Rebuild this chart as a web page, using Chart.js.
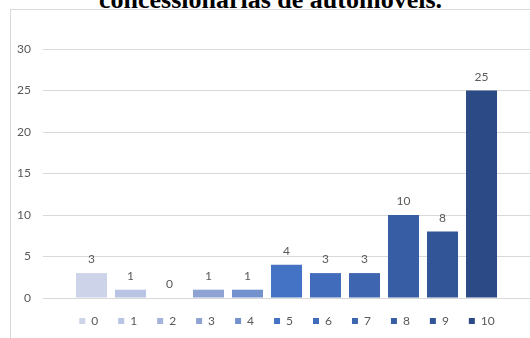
<!DOCTYPE html>
<html>
<head>
<meta charset="utf-8">
<script src="https://cdn.jsdelivr.net/npm/chart.js@4.4.1/dist/chart.umd.min.js"></script>
<style>
  body { margin: 0; width: 530px; height: 338px; overflow: hidden; background: #fff; position: relative; }
  #frame { position: absolute; left: 10px; top: 9px; width: 600px; height: 400px; border: 1px solid #d9d9d9; }
  #title { position: absolute; left: 0; width: 541px; top: -15px; line-height: 30px; text-align: center;
           font: bold 26px "Liberation Serif", "Times New Roman", serif; color: #000; white-space: nowrap; }
  #chart { position: absolute; left: 0; top: 0; }
</style>
</head>
<body>
<div id="frame"></div>
<div id="title">concessionárias de automóveis.</div>
<canvas id="chart" width="530" height="338"></canvas>
<script>
// one category, one series per score
var categories = [''];
var seriesNames = ['0', '1', '2', '3', '4', '5', '6', '7', '8', '9', '10'];
var seriesValues = [3, 1, 0, 1, 1, 4, 3, 3, 10, 8, 25];
var seriesColors = ['#cdd4e9', '#b9c3e3', '#a5b3dc', '#8fa2d4', '#7391cc', '#4472c4',
                    '#416cbb', '#3d65b0', '#375da4', '#325598', '#2c4a86'];
var yTicks = { min: 0, max: 30, step: 5 };

var textColor = '#595959';
var fontFamily = 'Lato, "Open Sans", sans-serif';

var datasets = seriesNames.map(function (name, i) {
  return {
    label: name,
    data: [seriesValues[i]],
    backgroundColor: seriesColors[i],
    borderWidth: 0
  };
});

// value labels above each bar
var valueLabels = {
  id: 'valueLabels',
  afterDatasetsDraw: function (chart) {
    var ctx = chart.ctx;
    ctx.save();
    ctx.fillStyle = textColor;
    ctx.font = '12px ' + fontFamily;
    ctx.textAlign = 'center';
    ctx.textBaseline = 'alphabetic';
    chart.data.datasets.forEach(function (ds, i) {
      chart.getDatasetMeta(i).data.forEach(function (bar, j) {
        ctx.fillText(String(ds.data[j]), bar.x, bar.y - 10);
      });
    });
    ctx.restore();
  }
};

// legend row sits under the plot area, not the whole canvas, and close to the axis
var legendNudge = {
  id: 'legendNudge',
  afterLayout: function (chart) {
    var lg = chart.legend;
    lg.top -= 3;
    lg.bottom -= 3;
    lg.left += 22;
    lg.right += 22;
  }
};

new Chart(document.getElementById('chart'), {
  type: 'bar',
  data: { labels: categories, datasets: datasets },
  options: {
    responsive: false,
    devicePixelRatio: 1,
    animation: false,
    layout: { padding: { top: 49, right: 0, bottom: -2, left: 0 } },
    categoryPercentage: 0.881,
    barPercentage: 0.795,
    plugins: {
      tooltip: { enabled: false },
      title: { display: false },
      legend: {
        position: 'bottom',
        labels: {
          boxWidth: 6,
          boxHeight: 6,
          padding: 20,
          color: textColor,
          font: { family: fontFamily, size: 12 }
        }
      }
    },
    scales: {
      x: {
        display: false
      },
      y: {
        min: yTicks.min,
        max: yTicks.max,
        afterFit: function (scale) { scale.width = 43; },
        ticks: {
          stepSize: yTicks.step,
          padding: 12,
          color: textColor,
          font: { family: fontFamily, size: 12 }
        },
        grid: { color: '#d9d9d9', drawTicks: false, lineWidth: 1 },
        border: { display: false }
      }
    }
  },
  plugins: [valueLabels, legendNudge]
});
</script>
</body>
</html>
